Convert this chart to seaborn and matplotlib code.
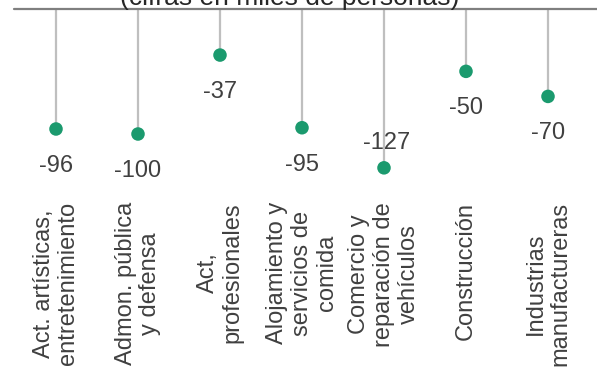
import numpy as np
import pandas as pd
import matplotlib
matplotlib.use("Agg")
import matplotlib.pyplot as plt
import seaborn as sns

# Employment change by sector (thousands of people)
categories = [
    "Act. artísticas,\nentretenimiento",
    "Admon. pública\ny defensa",
    "Act,\nprofesionales",
    "Alojamiento y\nservicios de\ncomida",
    "Comercio y\nreparación de\nvehículos",
    "Construcción",
    "Industrias\nmanufactureras",
]
values = [-96, -100, -37, -95, -127, -50, -70]
label_above = [False, False, False, False, True, False, False]
title = "(cifras en miles de personas)"

sns.set_theme(style="white")
plt.rcParams["font.family"] = ["Liberation Sans", "DejaVu Sans"]

W, H = 597, 368
fig = plt.figure(figsize=(W / 100, H / 100), dpi=100)
ax = fig.add_axes([0, 0, 1, 1])

# pixel geometry of the plotting frame
x0_px, step_px = 56, 82
zero_px, px_per_unit = 8.7, 1.253

ax.set_xlim(-x0_px / step_px, (W - x0_px) / step_px)
ax.set_ylim(-(H - zero_px) / px_per_unit, zero_px / px_per_unit)
ax.axis("off")

df = pd.DataFrame({"pos": np.arange(len(categories)), "value": values})

# stems hanging from the zero line
ax.vlines(df["pos"], df["value"], 0, color="#bfbfbf", lw=1.6, zorder=1)
ax.axhline(0, xmin=14 / W, xmax=1, color="#7f7f7f", lw=1.6, zorder=2)

sns.scatterplot(data=df, x="pos", y="value", ax=ax, color="#1b9a6e",
                s=95, edgecolor="none", zorder=3, legend=False)
ax.set_xlabel("")
ax.set_ylabel("")

text_col = "#404040"
for i, (v, above) in enumerate(zip(values, label_above)):
    dy = 13.7 if above else -31
    dx = 2 if above else 0
    ax.annotate(f"{v}", (i, v), xytext=(dx, dy), textcoords="offset points",
                ha="center", va="baseline", fontsize=17, color=text_col)

label_top = -(202 - zero_px) / px_per_unit
for i, cat in enumerate(categories):
    ax.text(i, label_top, cat, rotation=90, ha="center", va="top",
            multialignment="center", fontsize=17, color=text_col,
            linespacing=1.15)

fig.text(289.5 / W, 1 - 5 / H, title, ha="center", va="baseline",
         fontsize=19, color="#262626")

fig.savefig("out.png", dpi=100)
